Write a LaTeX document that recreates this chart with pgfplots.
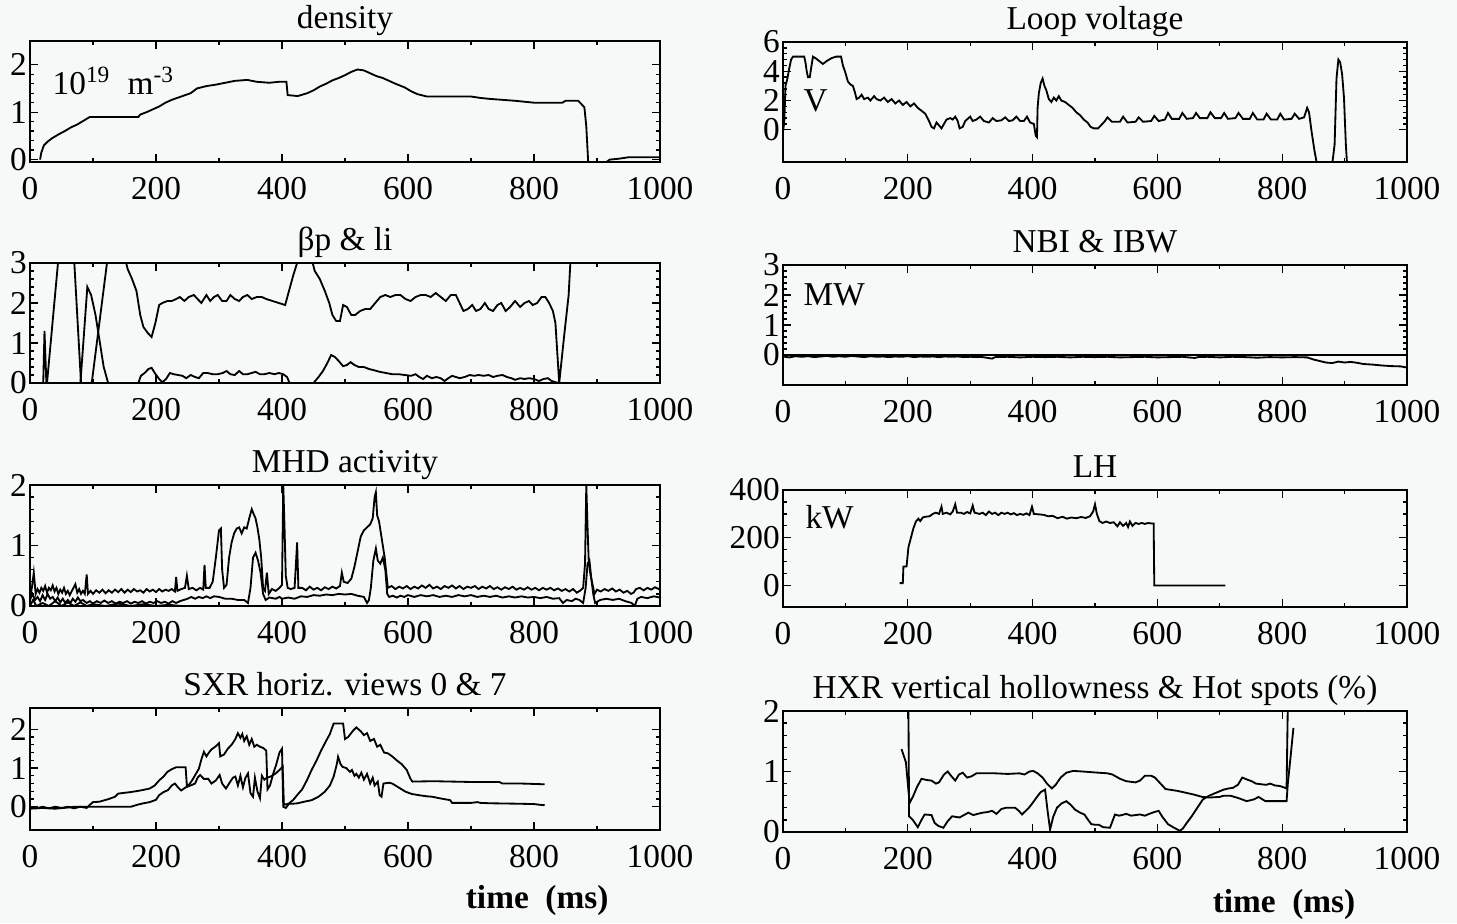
\documentclass[border=0pt]{standalone}
\usepackage{fontspec}
\setmainfont{Liberation Serif}
\usepackage{pgfplots}
\pgfplotsset{compat=1.18}
\definecolor{bgc}{RGB}{247,248,248}
\pgfplotsset{
  panel/.style={
    scale only axis, anchor=south west,
    xmin=0, xmax=1000, xtick={0,200,...,1000}, minor x tick num=1,
    tick align=inside, major tick length=2.5pt, minor tick length=1.3pt,
    axis line style={line width=0.8pt},
    tick style={black, line width=0.4pt},
    tick label style={font=\fontsize{10}{12}\selectfont},
    xticklabel style={yshift=-1pt},
    yticklabel style={inner xsep=0.8pt},
    title style={font=\fontsize{10}{12}\selectfont, at={(0.5,1)}, anchor=base, yshift=-2.2pt},
    /pgf/number format/assume math mode=true,
    /pgf/number format/1000 sep={},
    minor y tick num=4,
  },
  Lcol/.style={panel, width=189pt},
  Rcol/.style={panel, width=187.2pt},
  curve/.style={black, line width=0.55pt, mark=none},
}
\begin{document}
\begin{tikzpicture}
\fill[bgc] (0,0) rectangle (437.1pt,276.9pt);
\useasboundingbox (0,0) rectangle (437.1pt,276.9pt);

% ---------------- density ----------------
\begin{axis}[Lcol, at={(9pt,228.3pt)}, height=36.3pt, ymin=-0.05, ymax=2.5, ytick={0,1,2}, title={density}]
\addplot[curve] coordinates {(16,0)(18,0.15)(22,0.3)(28,0.38)(35,0.45)(45,0.53)(55,0.6)(65,0.68)(75,0.74)(85,0.82)(95,0.9)(172,0.9)(175,0.95)(185,1.0)(195,1.06)(205,1.12)(215,1.2)(225,1.26)(240,1.33)(255,1.4)(265,1.5)(280,1.55)(295,1.58)(310,1.62)(325,1.66)(345,1.68)(360,1.64)(380,1.62)(395,1.64)(407,1.64)(409,1.36)(425,1.34)(440,1.40)(450,1.46)(460,1.54)(470,1.6)(480,1.67)(490,1.72)(500,1.78)(510,1.85)(520,1.9)(530,1.88)(540,1.82)(550,1.76)(560,1.72)(570,1.66)(580,1.6)(595,1.52)(605,1.44)(615,1.38)(630,1.33)(700,1.33)(715,1.30)(730,1.28)(770,1.24)(800,1.2)(845,1.2)(850,1.24)(870,1.24)(876,1.16)(880,1.1)(883,0.7)(886,-0.05)(915,-0.05)(920,0.0)(935,0.02)(950,0.05)(1000,0.05)};
\node[anchor=west, inner sep=0pt, font=\fontsize{10}{12}\selectfont] at (axis cs:35,1.65) {10\textsuperscript{19}\ \ m\textsuperscript{-3}};
\end{axis}

% ---------------- Loop voltage ----------------
\begin{axis}[Rcol, at={(234.9pt,228.3pt)}, height=36pt, ymin=-2.2, ymax=6, ytick={0,2,4,6}, title={Loop voltage}]
\addplot[curve] coordinates {(0,-0.1)(2,0.5)(4,3.0)(7,3.5)(10,4.2)(13,4.8)(16,5.0)(34,5.0)(36,4.6)(38,4.0)(40,3.6)(43,3.6)(45,4.2)(48,5.0)(52,4.9)(58,4.7)(64,4.5)(70,4.7)(78,4.9)(85,5.0)(93,5.0)(96,4.4)(100,3.9)(104,3.3)(108,3.1)(112,3.0)(115,2.6)(118,2.1)(122,2.2)(126,2.4)(130,2.1)(136,2.2)(140,2.0)(146,2.3)(150,2.1)(156,2.0)(162,2.2)(168,1.9)(174,2.1)(180,1.8)(186,2.0)(192,1.7)(198,1.9)(204,1.6)(210,1.8)(216,1.5)(222,1.3)(228,1.1)(234,0.6)(238,0.2)(242,0.1)(246,0.5)(250,0.3)(254,0.1)(258,0.4)(262,0.7)(268,0.8)(272,0.7)(276,0.9)(280,0.6)(283,0.1)(288,0.2)(292,0.6)(296,0.75)(300,0.9)(304,0.6)(310,0.7)(316,0.9)(322,0.6)(330,0.5)(336,0.8)(342,0.6)(350,0.65)(356,0.85)(362,0.6)(368,0.65)(374,0.9)(380,0.6)(386,0.6)(391,0.9)(396,0.5)(402,0.4)(405,-0.4)(407,-0.5)(408,1.5)(410,2.5)(413,3.2)(416,3.5)(419,3.0)(422,2.7)(426,2.1)(430,1.9)(434,2.2)(438,2.0)(442,2.3)(446,2.0)(452,1.9)(458,1.7)(464,1.5)(470,1.2)(476,1.0)(482,0.7)(488,0.5)(493,0.2)(498,0.1)(505,0.1)(515,0.55)(520,0.85)(527,0.55)(540,0.55)(545,0.9)(552,0.5)(565,0.55)(570,0.85)(577,0.55)(590,0.6)(595,0.95)(602,0.6)(612,0.7)(617,1.15)(623,0.75)(635,0.75)(640,1.15)(647,0.75)(657,0.8)(662,1.15)(668,0.8)(680,0.8)(685,1.2)(692,0.8)(702,0.8)(707,1.15)(713,0.75)(725,0.8)(730,1.15)(737,0.75)(748,0.75)(753,1.15)(760,0.7)(770,0.7)(775,1.1)(782,0.7)(792,0.7)(797,1.1)(803,0.7)(815,0.75)(820,1.1)(827,0.75)(835,0.85)(840,1.5)(843,1.2)(847,-0.1)(852,-1.5)(856,-2.4)};
\addplot[curve] coordinates {(880,-2.4)(884,-1.0)(887,3.5)(890,4.8)(893,4.6)(896,3.8)(899,2.2)(902,-1.0)(904,-2.4)};
\node[anchor=west, inner sep=0pt, font=\fontsize{10}{12}\selectfont] at (axis cs:32,2.0) {V};
\end{axis}

% ---------------- beta_p & li ----------------
\begin{axis}[Lcol, at={(9pt,162pt)}, height=36pt, ymin=0, ymax=3, ytick={0,1,2,3}, title={βp \& li}]
\addplot[curve] coordinates {(21,0)(23,1.3)(26,0)};
\addplot[curve] coordinates {(27,0)(45,3.1)};
\addplot[curve] coordinates {(70,3.1)(81,0)};
\addplot[curve] coordinates {(80,0)(86,1.3)(91,2.4)(97,2.2)(104,1.7)(110,1.1)(117,0.4)(124,0)(176,0)};
\addplot[curve] coordinates {(98,0)(123,3.1)};
\addplot[curve] coordinates {(151,3.1)(155,2.85)(162,2.6)(169,2.3)(175,1.7)(180,1.4)(187,1.25)(193,1.15)(199,1.5)(205,1.95)(210,2.0)(218,2.05)(225,2.05)(232,2.1)(238,2.15)(245,2.05)(252,2.15)(260,2.2)(266,2.1)(272,2.0)(280,2.2)(286,2.05)(292,2.15)(298,2.2)(305,2.05)(312,2.05)(318,2.2)(325,2.1)(332,2.05)(338,2.15)(345,2.2)(352,2.1)(360,2.15)(368,2.15)(375,2.1)(385,2.05)(395,2.0)(405,1.95)(418,2.7)(426,3.1)(447,3.1)(452,2.8)(460,2.6)(468,2.3)(475,2.0)(480,1.7)(486,1.55)(492,1.55)(497,1.95)(503,1.9)(510,1.7)(516,1.7)(524,1.8)(532,1.85)(540,1.85)(548,2.0)(556,2.15)(564,2.2)(572,2.15)(580,2.2)(588,2.2)(596,2.1)(604,2.05)(612,2.15)(620,2.2)(628,2.2)(636,2.15)(644,2.25)(652,2.15)(660,2.05)(668,2.2)(676,2.2)(682,2.0)(688,1.8)(695,1.85)(702,1.95)(708,1.8)(715,1.85)(722,2.0)(728,1.85)(735,1.8)(742,1.95)(748,2.0)(755,1.8)(762,1.9)(770,2.05)(778,1.9)(785,2.0)(792,2.05)(798,1.95)(805,2.0)(812,2.15)(818,2.15)(824,2.0)(830,1.8)(834,1.5)(838,0.5)(840,0)(848,1.2)(855,2.2)(858,3.1)};
\addplot[curve] coordinates {(172,0)(176,0.18)(182,0.25)(188,0.35)(193,0.38)(198,0.25)(205,0.1)(210,0.02)(216,0.1)(222,0.25)(228,0.22)(235,0.2)(242,0.18)(248,0.12)(255,0.2)(262,0.15)(268,0.12)(275,0.25)(282,0.25)(290,0.22)(298,0.22)(306,0.25)(312,0.3)(318,0.22)(325,0.2)(332,0.3)(338,0.22)(345,0.22)(352,0.25)(358,0.28)(365,0.22)(372,0.22)(380,0.25)(388,0.22)(395,0.25)(402,0.22)(408,0.15)(412,0)(450,0)(458,0.15)(465,0.3)(472,0.5)(478,0.7)(484,0.65)(490,0.55)(497,0.42)(503,0.45)(509,0.52)(515,0.45)(522,0.4)(530,0.4)(538,0.35)(546,0.32)(555,0.28)(565,0.25)(575,0.22)(585,0.22)(595,0.2)(605,0.18)(612,0.22)(618,0.15)(624,0.1)(630,0.18)(638,0.12)(645,0.15)(652,0.12)(658,0.05)(664,0.12)(670,0.18)(676,0.15)(682,0.12)(690,0.15)(698,0.2)(705,0.18)(712,0.2)(720,0.18)(728,0.2)(735,0.15)(742,0.18)(750,0.2)(757,0.15)(764,0.12)(770,0.08)(778,0.12)(785,0.1)(792,0.12)(800,0.1)(808,0.05)(815,0.1)(822,0.12)(828,0.05)(834,0.02)(840,0)};
\end{axis}

% ---------------- NBI & IBW ----------------
\begin{axis}[Rcol, at={(234.9pt,161.4pt)}, height=36pt, ymin=-1, ymax=3, ytick={0,1,2,3}, title={NBI \& IBW}]
\addplot[curve] coordinates {(0,0)(1000,0)};
\addplot[curve] coordinates {(0,-0.05)(10,-0.08)(20,-0.04)(30,-0.06)(40,-0.04)(50,-0.07)(60,-0.05)(70,-0.03)(80,-0.06)(90,-0.04)(100,-0.06)(110,-0.03)(120,-0.05)(130,-0.07)(140,-0.04)(150,-0.06)(160,-0.05)(170,-0.07)(180,-0.05)(190,-0.06)(200,-0.04)(210,-0.07)(220,-0.05)(230,-0.06)(240,-0.05)(250,-0.07)(260,-0.05)(270,-0.06)(280,-0.05)(290,-0.07)(300,-0.06)(320,-0.07)(335,-0.12)(340,-0.07)(360,-0.06)(380,-0.08)(400,-0.06)(420,-0.07)(440,-0.06)(460,-0.08)(480,-0.06)(500,-0.07)(520,-0.06)(540,-0.08)(560,-0.07)(580,-0.06)(600,-0.08)(620,-0.07)(640,-0.06)(660,-0.1)(665,-0.07)(680,-0.06)(700,-0.08)(720,-0.06)(740,-0.07)(760,-0.09)(780,-0.07)(800,-0.08)(820,-0.07)(840,-0.08)(850,-0.15)(860,-0.2)(870,-0.25)(880,-0.27)(890,-0.22)(900,-0.25)(910,-0.23)(920,-0.26)(930,-0.3)(945,-0.32)(960,-0.35)(975,-0.37)(990,-0.38)(1000,-0.42)};
\node[anchor=west, inner sep=0pt, font=\fontsize{10}{12}\selectfont] at (axis cs:32,2.0) {MW};
\end{axis}

% ---------------- MHD activity ----------------
\begin{axis}[Lcol, at={(9pt,95.1pt)}, height=36.3pt, ymin=0, ymax=2, ytick={0,1,2}, title={MHD activity}]
\addplot[curve] coordinates {(0,0.15)(3,0.3)(6,0.55)(9,0.2)(12,0.28)(15,0.22)(18,0.3)(21,0.25)(24,0.33)(27,0.22)(30,0.3)(33,0.26)(36,0.34)(39,0.24)(42,0.3)(45,0.2)(48,0.27)(51,0.22)(54,0.3)(57,0.2)(60,0.25)(63,0.18)(66,0.24)(69,0.3)(72,0.36)(75,0.22)(78,0.28)(81,0.2)(84,0.25)(87,0.2)(90,0.52)(92,0.2)(96,0.25)(100,0.2)(105,0.26)(110,0.22)(115,0.27)(120,0.21)(125,0.26)(130,0.22)(135,0.27)(140,0.23)(145,0.28)(150,0.22)(155,0.27)(160,0.23)(165,0.28)(170,0.24)(175,0.26)(180,0.22)(185,0.28)(190,0.24)(195,0.27)(200,0.23)(205,0.28)(210,0.24)(215,0.27)(220,0.25)(225,0.28)(230,0.24)(232,0.48)(234,0.25)(240,0.28)(246,0.3)(249,0.5)(252,0.28)(258,0.3)(264,0.26)(270,0.3)(275,0.27)(277,0.68)(279,0.3)(285,0.3)(290,0.4)(295,0.8)(300,1.25)(303,1.28)(305,0.6)(308,0.3)(312,0.35)(316,0.8)(320,1.05)(324,1.2)(328,1.28)(332,1.3)(336,1.2)(340,1.3)(344,1.28)(348,1.45)(352,1.6)(355,1.52)(358,1.45)(361,1.3)(364,1.1)(367,0.8)(370,0.3)(373,0.25)(376,0.55)(379,0.2)(384,0.28)(390,0.25)(396,0.3)(400,0.35)(402,2.0)(404,1.3)(406,0.5)(409,0.3)(414,0.28)(420,0.3)(424,1.05)(426,0.3)(432,0.3)(438,0.26)(444,0.32)(450,0.27)(456,0.3)(462,0.26)(468,0.31)(474,0.28)(480,0.32)(486,0.29)(492,0.33)(495,0.55)(498,0.4)(504,0.38)(510,0.45)(515,0.65)(520,0.9)(525,1.15)(530,1.25)(535,1.3)(540,1.35)(544,1.45)(547,1.8)(549,1.88)(551,1.5)(554,1.4)(557,1.2)(560,1.0)(563,0.8)(566,0.5)(568,0.3)(574,0.33)(580,0.28)(586,0.32)(592,0.29)(598,0.33)(604,0.28)(610,0.32)(616,0.29)(622,0.34)(628,0.3)(634,0.35)(640,0.29)(646,0.32)(652,0.28)(658,0.33)(664,0.3)(670,0.34)(676,0.29)(682,0.33)(688,0.28)(694,0.32)(700,0.3)(706,0.33)(712,0.28)(718,0.32)(724,0.29)(730,0.33)(736,0.28)(742,0.31)(748,0.27)(754,0.31)(760,0.28)(766,0.32)(772,0.27)(778,0.3)(784,0.27)(790,0.31)(796,0.27)(802,0.3)(808,0.26)(814,0.3)(820,0.27)(826,0.3)(832,0.26)(838,0.29)(844,0.25)(850,0.28)(856,0.24)(862,0.28)(868,0.22)(874,0.26)(878,0.3)(881,0.7)(883,2.0)(885,1.3)(887,0.7)(890,0.5)(893,0.35)(896,0.2)(900,0.27)(906,0.24)(912,0.28)(918,0.25)(924,0.29)(930,0.24)(936,0.27)(942,0.22)(948,0.25)(954,0.2)(958,0.22)(962,0.28)(968,0.3)(974,0.26)(980,0.3)(986,0.27)(992,0.31)(998,0.28)(1000,0.3)};
\addplot[curve] coordinates {(0,0.1)(4,0.2)(8,0.1)(12,0.15)(16,0.08)(20,0.18)(24,0.1)(28,0.2)(32,0.12)(36,0.15)(40,0.08)(44,0.14)(48,0.06)(52,0.12)(56,0.05)(60,0.1)(64,0.05)(68,0.12)(72,0.07)(76,0.14)(80,0.08)(84,0.1)(90,0.05)(95,0.08)(100,0.04)(106,0.08)(112,0.05)(118,0.09)(124,0.05)(130,0.08)(136,0.04)(142,0.07)(148,0.05)(154,0.08)(160,0.04)(166,0.07)(172,0.05)(178,0.08)(184,0.04)(190,0.07)(196,0.05)(202,0.08)(208,0.05)(214,0.07)(220,0.04)(226,0.08)(232,0.05)(238,0.08)(244,0.1)(250,0.12)(256,0.15)(262,0.12)(268,0.15)(274,0.13)(280,0.16)(286,0.13)(292,0.16)(300,0.15)(310,0.12)(320,0.12)(330,0.1)(340,0.1)(346,0.05)(350,0.3)(354,0.8)(358,0.88)(362,0.75)(366,0.55)(370,0.2)(374,0.1)(380,0.14)(390,0.12)(396,0.15)(400,0.12)(410,0.14)(420,0.12)(430,0.16)(440,0.15)(450,0.18)(460,0.17)(470,0.19)(480,0.18)(490,0.2)(500,0.19)(510,0.2)(520,0.17)(530,0.15)(535,0.05)(538,0.1)(541,0.3)(545,0.75)(549,0.95)(552,0.75)(556,0.7)(560,0.8)(564,0.6)(567,0.2)(570,0.15)(576,0.17)(582,0.14)(588,0.17)(594,0.15)(600,0.18)(610,0.15)(620,0.18)(630,0.16)(640,0.18)(650,0.15)(660,0.17)(670,0.15)(680,0.18)(690,0.16)(700,0.18)(710,0.15)(720,0.17)(730,0.15)(740,0.17)(750,0.14)(760,0.16)(770,0.14)(780,0.16)(790,0.14)(800,0.15)(810,0.13)(820,0.15)(830,0.12)(840,0.13)(846,0.05)(852,0.1)(860,0.08)(866,0.12)(872,0.1)(878,0.05)(882,0.3)(885,0.7)(888,0.75)(891,0.45)(894,0.2)(897,0.05)(905,0.1)(915,0.12)(925,0.1)(935,0.12)(945,0.08)(955,0.05)(960,0.0)(964,0.12)(970,0.15)(980,0.13)(990,0.16)(1000,0.14)};
\addplot[curve] coordinates {(0,0)(5,0.1)(10,0.0)(20,0.05)(30,0)(40,0.08)(50,0)(60,0.06)(70,0.0)(80,0.06)(90,0)(100,0.03)(120,0)(140,0.04)(160,0)(180,0.03)(200,0)(220,0.02)(240,0)(1000,0)};
\end{axis}

% ---------------- LH ----------------
\begin{axis}[Rcol, at={(234.9pt,94.8pt)}, height=35.1pt, ymin=-90, ymax=400, ytick={0,200,400}, minor y tick num=3, title={LH}]
\addplot[curve] coordinates {(187,10)(192,10)(193,80)(198,80)(201,160)(205,200)(209,240)(213,268)(217,280)(220,270)(224,285)(228,288)(235,290)(240,300)(245,305)(250,300)(254,330)(256,300)(262,305)(268,298)(272,310)(276,340)(279,305)(285,305)(290,300)(295,308)(300,302)(304,335)(307,305)(315,300)(320,305)(325,295)(330,310)(335,300)(340,305)(345,295)(350,305)(355,300)(360,305)(365,298)(370,303)(375,295)(380,300)(385,296)(390,302)(395,295)(399,330)(402,300)(410,298)(418,296)(425,290)(432,292)(440,282)(448,288)(455,280)(462,285)(470,282)(478,287)(485,283)(492,290)(497,310)(500,340)(503,300)(507,270)(512,262)(518,268)(524,262)(530,265)(536,248)(540,265)(545,250)(550,262)(553,245)(556,268)(560,250)(565,262)(570,258)(575,262)(580,258)(585,262)(590,260)(594,260)(595,0)(709,0)};
\node[anchor=west, inner sep=0pt, font=\fontsize{10}{12}\selectfont] at (axis cs:35,285) {kW};
\end{axis}

% ---------------- SXR ----------------
\begin{axis}[Lcol, at={(9pt,27.9pt)}, height=36.6pt, ymin=-0.6, ymax=2.55, ytick={0,1,2}, title={SXR horiz. views 0 \& 7},
  xlabel={\textbf{time\ \ (ms)}}, xlabel style={font=\fontsize{10}{12}\selectfont, at={(axis description cs:0.805,-0.574)}, anchor=center}]
\addplot[curve] coordinates {(0,0)(10,-0.04)(20,0.0)(30,-0.04)(40,0.0)(50,-0.03)(60,0.0)(70,-0.04)(80,0.0)(90,-0.03)(95,0.05)(100,0.12)(110,0.13)(125,0.2)(135,0.26)(140,0.34)(160,0.38)(175,0.42)(190,0.47)(198,0.55)(205,0.68)(212,0.78)(218,0.9)(225,0.97)(232,1.02)(240,1.02)(247,1.02)(249,0.55)(253,0.58)(258,0.7)(263,0.84)(268,0.98)(272,1.22)(276,1.42)(280,1.3)(284,1.4)(288,1.48)(294,1.55)(300,1.64)(302,1.3)(308,1.35)(314,1.5)(320,1.6)(326,1.75)(330,1.9)(334,1.78)(337,1.88)(340,1.7)(344,1.82)(348,1.6)(352,1.75)(356,1.55)(360,1.6)(365,1.55)(370,1.52)(375,1.45)(377,0.45)(381,0.55)(386,0.85)(391,1.1)(396,1.4)(400,1.5)(402,0.0)(406,-0.03)(412,0.1)(418,0.18)(425,0.32)(432,0.45)(440,0.7)(447,0.95)(455,1.2)(462,1.45)(470,1.7)(476,1.88)(482,2.15)(497,2.15)(500,1.75)(505,1.8)(512,1.95)(518,2.05)(525,1.95)(530,1.85)(535,1.9)(540,1.7)(546,1.75)(551,1.55)(556,1.6)(562,1.4)(568,1.38)(575,1.3)(582,1.2)(590,1.1)(598,0.95)(604,0.72)(607,0.65)(640,0.66)(670,0.65)(700,0.64)(745,0.64)(750,0.6)(780,0.6)(817,0.58)};
\addplot[curve] coordinates {(0,-0.05)(20,-0.03)(40,-0.05)(60,-0.02)(70,0.0)(100,0.0)(160,0.0)(170,0.05)(180,0.09)(190,0.12)(200,0.18)(205,0.3)(212,0.38)(219,0.43)(225,0.55)(230,0.6)(235,0.5)(240,0.42)(247,0.5)(255,0.55)(262,0.6)(266,0.75)(270,0.82)(276,0.72)(283,0.72)(288,0.6)(295,0.68)(301,0.82)(305,0.6)(311,0.47)(316,0.6)(322,0.75)(326,0.78)(330,0.55)(334,0.8)(338,0.5)(342,0.75)(346,0.86)(350,0.35)(354,0.26)(357,0.75)(361,0.4)(365,0.22)(368,0.8)(372,0.7)(376,0.75)(382,0.78)(390,0.86)(396,0.95)(401,1.03)(403,0.05)(410,0.08)(418,0.08)(425,0.09)(435,0.13)(447,0.17)(458,0.26)(468,0.39)(476,0.55)(482,0.78)(487,1.1)(489,1.29)(493,1.1)(496,1.03)(502,1.0)(508,0.9)(511,0.95)(515,0.8)(518,0.85)(522,0.75)(526,0.88)(530,0.7)(535,0.85)(540,0.6)(544,0.75)(547,0.55)(552,0.65)(555,0.3)(558,0.26)(561,0.6)(570,0.62)(575,0.6)(585,0.5)(596,0.39)(606,0.33)(617,0.3)(630,0.27)(638,0.26)(650,0.22)(667,0.17)(670,0.1)(700,0.1)(710,0.12)(715,0.1)(731,0.09)(770,0.08)(800,0.07)(810,0.05)(817,0.04)};
\end{axis}

% ---------------- HXR ----------------
\begin{axis}[Rcol, at={(234.9pt,27.3pt)}, height=36.3pt, ymin=0, ymax=2, ytick={0,1,2}, title={HXR vertical hollowness \& Hot spots (\%)},
  xlabel={\textbf{time\ \ (ms)}}, xlabel style={font=\fontsize{10}{12}\selectfont, at={(axis description cs:0.803,-0.603)}, anchor=center}]
\addplot[curve] coordinates {(190,1.37)(197,1.15)(200,0.8)(203,0.48)(208,0.58)(215,0.75)(222,0.88)(230,0.86)(238,0.85)(245,0.8)(250,0.82)(258,0.95)(264,1.0)(270,0.92)(276,0.85)(282,0.95)(288,0.98)(295,0.9)(302,0.92)(310,0.97)(320,0.97)(340,0.97)(360,0.96)(379,0.97)(387,0.95)(395,1.0)(401,1.01)(408,0.97)(416,0.9)(423,0.8)(431,0.72)(437,0.78)(445,0.9)(454,0.98)(465,1.01)(480,1.0)(506,0.98)(520,0.97)(528,0.95)(540,0.88)(550,0.84)(565,0.82)(572,0.85)(580,0.93)(590,0.93)(596,0.9)(605,0.8)(613,0.71)(632,0.68)(645,0.65)(658,0.62)(672,0.58)(684,0.57)(700,0.58)(706,0.6)(717,0.6)(730,0.56)(743,0.51)(755,0.54)(762,0.58)(773,0.51)(788,0.51)(807,0.51)(809,0.8)(813,1.2)(818,1.72)};
\addplot[curve] coordinates {(201,2.1)(202,0.26)(208,0.2)(216,0.08)(222,0.2)(227,0.29)(238,0.28)(243,0.15)(249,0.1)(257,0.07)(264,0.18)(271,0.26)(283,0.24)(290,0.28)(297,0.32)(305,0.28)(312,0.3)(320,0.32)(328,0.33)(335,0.35)(342,0.3)(350,0.38)(357,0.4)(365,0.4)(372,0.4)(378,0.35)(383,0.29)(389,0.35)(394,0.4)(400,0.48)(407,0.58)(413,0.66)(420,0.7)(424,0.35)(428,0.04)(433,0.25)(439,0.4)(446,0.47)(454,0.51)(461,0.45)(468,0.37)(476,0.32)(483,0.29)(489,0.2)(494,0.13)(500,0.12)(506,0.12)(513,0.08)(524,0.07)(528,0.18)(532,0.29)(538,0.27)(543,0.28)(550,0.3)(558,0.27)(565,0.28)(572,0.29)(580,0.27)(587,0.3)(595,0.33)(602,0.35)(608,0.25)(617,0.13)(625,0.08)(636,0.02)(641,0.06)(647,0.15)(655,0.26)(662,0.37)(673,0.54)(683,0.6)(692,0.64)(706,0.7)(714,0.72)(721,0.73)(729,0.78)(736,0.9)(743,0.87)(751,0.84)(758,0.8)(766,0.79)(774,0.78)(781,0.8)(788,0.77)(796,0.76)(802,0.74)(807,0.72)(809,2.1)};
\end{axis}
\end{tikzpicture}
\end{document}
